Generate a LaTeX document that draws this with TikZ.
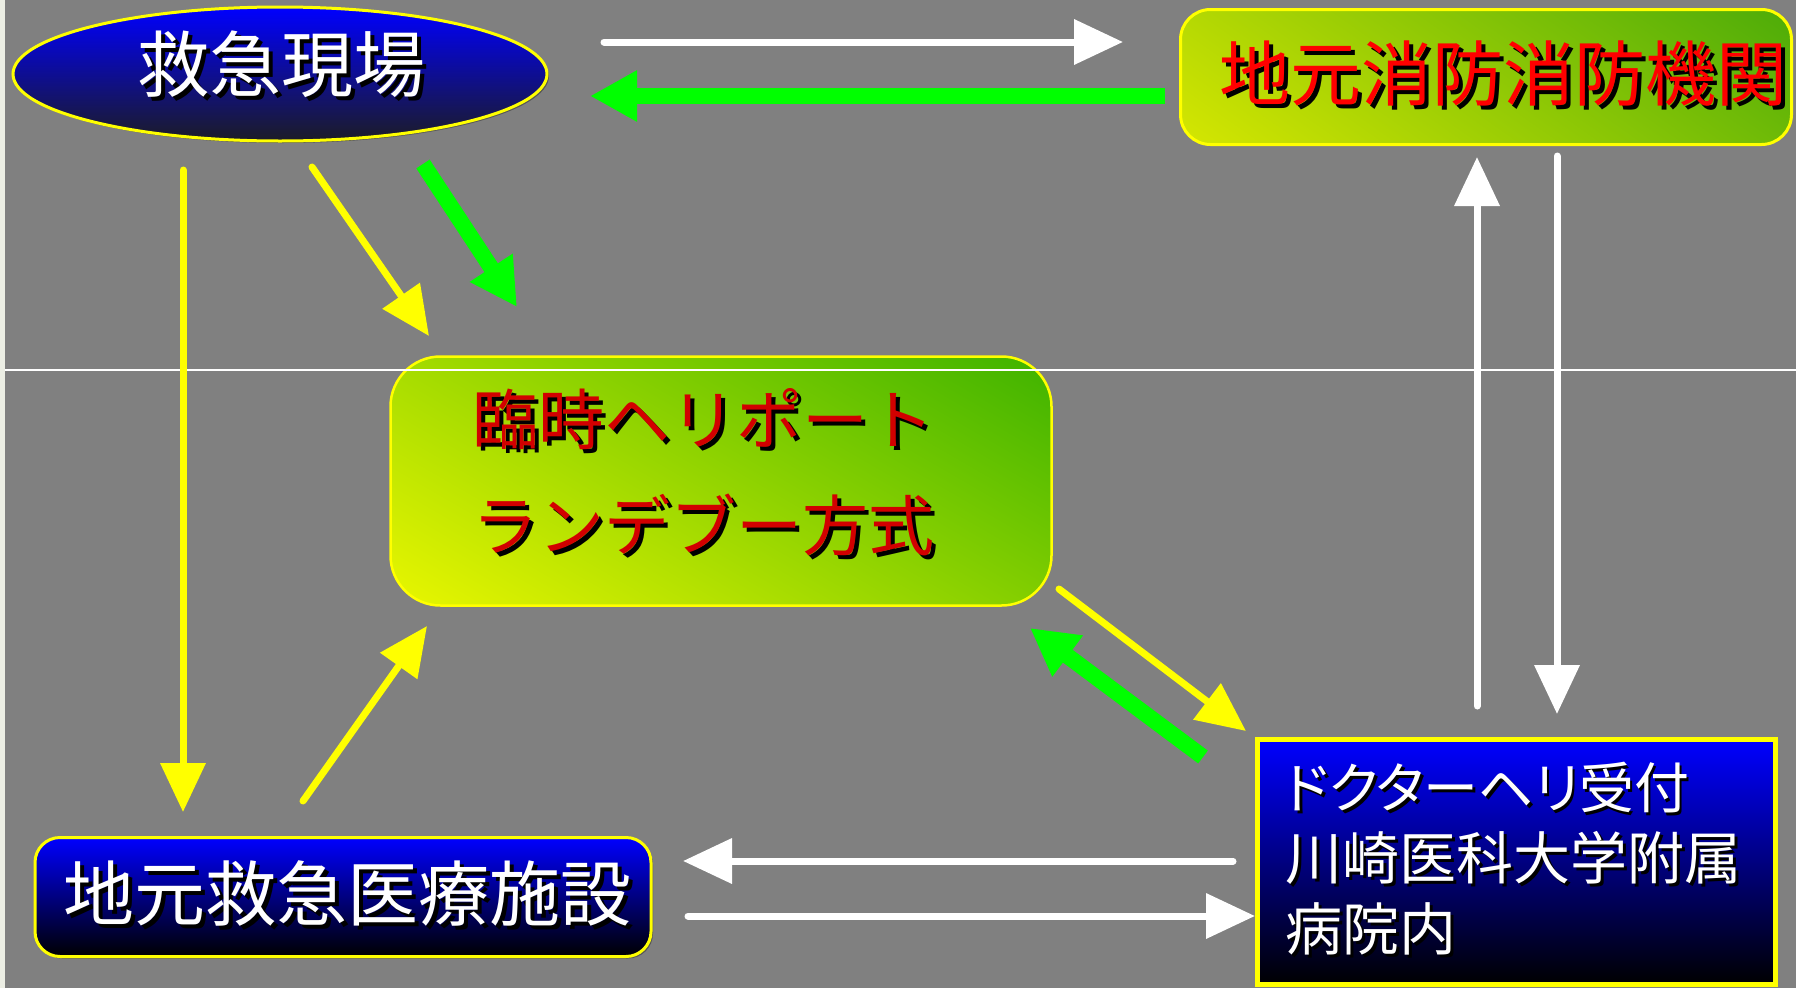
\documentclass[tikz,border=0pt]{standalone}
\usepackage{fontspec}
\setmainfont{Noto Sans CJK JP}
\newfontfamily\jpp{Noto Sans CJK JP}[RawFeature=+palt]
\usetikzlibrary{arrows.meta,calc,shapes.geometric,shadows}
\definecolor{bg}{RGB}{128,128,128}
\definecolor{strip}{RGB}{236,238,228}
\definecolor{pureyellow}{RGB}{255,255,0}
\definecolor{puregreen}{RGB}{0,255,0}
\definecolor{fgreen}{RGB}{50,160,10}
\definecolor{fyellow}{RGB}{240,242,0}
\definecolor{hgreen}{RGB}{40,170,0}
\definecolor{hmid}{RGB}{220,242,0}
\definecolor{pureblue}{RGB}{0,0,255}
\definecolor{scenebot}{RGB}{28,28,38}
\definecolor{firered}{RGB}{255,0,0}
\definecolor{helired}{RGB}{210,0,0}
\newcommand{\shd}[3][3.5pt]{\rlap{\kern#1\raisebox{-#1}{\color{black}#3}}{\color{#2}#3}}
\begin{document}
\begin{tikzpicture}[x=1pt,y=-1pt,
  ya/.style={draw=pureyellow, line width=7pt, line cap=round, -{Triangle[length=49pt,width=44pt]}},
  wa/.style={draw=white, line width=7pt, line cap=round, -{Triangle[length=49pt,width=44pt]}},
  ga/.style={draw=puregreen, line width=16pt, -{Triangle[length=47pt,width=48pt]}},
  box/.style={draw=pureyellow, inner sep=0pt},
  bshadow/.style={drop shadow={shadow xshift=2pt, shadow yshift=-2pt, fill=black!70, opacity=0.8}},
  txt/.style={inner sep=0pt, anchor=center}
]
\useasboundingbox (0,0) rectangle (1796,988);
\fill[bg] (0,0) rectangle (1796,988);
\fill[strip] (0,0) rectangle (5,988);

% boxes
\node[box, bshadow, ellipse, line width=3pt, top color=pureblue, bottom color=scenebot,
  minimum width=534pt, minimum height=134pt] (scene) at (280,74) {};
\node[box, rectangle, rounded corners=30pt, line width=3pt, minimum width=611pt, minimum height=135pt,
  path picture={\shade[left color=fgreen, right color=fyellow, shading angle=-35]
    ($(path picture bounding box.center)+(-320pt,-320pt)$) rectangle ($(path picture bounding box.center)+(320pt,320pt)$);}] (fire) at (1486,77) {};
\node[box, rectangle, rounded corners=50pt, line width=2.5pt, minimum width=661pt, minimum height=249pt,
  path picture={\shade[left color=hgreen, middle color=hmid, right color=pureyellow, shading angle=-30]
    ($(path picture bounding box.center)+(-345pt,-345pt)$) rectangle ($(path picture bounding box.center)+(345pt,345pt)$);}] (heli) at (721,481) {};
\node[box, bshadow, rectangle, rounded corners=25pt, line width=3pt, top color=pureblue, bottom color=black,
  minimum width=616pt, minimum height=119pt] (hosp) at (343,897) {};
\node[box, bshadow, rectangle, line width=5pt, top color=pureblue, bottom color=black,
  minimum width=518pt, minimum height=245pt] (doc) at (1516,862) {};

% texts
\node[txt, font=\fontsize{72pt}{72pt}\selectfont] (scenet) at (281,66) {\shd[4pt]{white}{救急現場}};
\node[txt, font=\fontsize{71pt}{71pt}\selectfont] (firet) at (1503,76) {\shd[4pt]{firered}{地元消防消防機関}};
\node[txt, font=\fontsize{66pt}{106pt}\selectfont, align=center] (helit) at (703,474)
  {\shd[4pt]{helired}{臨時ヘリポート}\\\shd[4pt]{helired}{ランデブー方式}};
\node[txt, font=\fontsize{71pt}{71pt}\selectfont] (hospt) at (347,895) {\shd[4pt]{white}{地元救急医療施設}};
\node[txt, anchor=west, font=\fontsize{57pt}{71pt}\selectfont, align=left] (doct) at (1285,860)
  {\shd[3pt]{white}{\jpp\fontsize{55pt}{71pt}\selectfont ドクターヘリ受付}\\\shd[3pt]{white}{川崎医科大学附属}\\\shd[3pt]{white}{病院内}};

% thin line
\draw[white, line width=2pt] (5,370) -- (1796,370);

% connector end points
\coordinate (a1s) at (604,42);   \coordinate (a1e) at (1123,42);
\coordinate (a2s) at (1165,96);  \coordinate (a2e) at (590,96);
\coordinate (a3s) at (183,170);  \coordinate (a3e) at (183,812);
\coordinate (a4s) at (312,167);  \coordinate (a4e) at (429,336);
\coordinate (a5s) at (423,164);  \coordinate (a5e) at (517,307);
\coordinate (a6s) at (303,801);  \coordinate (a6e) at (427,626);
\coordinate (a7s) at (1477,706); \coordinate (a7e) at (1477,157);
\coordinate (a8s) at (1557,156); \coordinate (a8e) at (1557,714);
\coordinate (a9s) at (1059,589); \coordinate (a9e) at (1246,731);
\coordinate (a10s) at (1203,757); \coordinate (a10e) at (1030,628);
\coordinate (a11s) at (1233,861); \coordinate (a11e) at (683,861);
\coordinate (a12s) at (688,916);  \coordinate (a12e) at (1255,916);

\draw[wa] (a1s) -- (a1e);
\draw[ga] (a2s) -- (a2e);
\draw[ya] (a3s) -- (a3e);
\draw[ya] (a4s) -- (a4e);
\draw[ga] (a5s) -- (a5e);
\draw[ya] (a6s) -- (a6e);
\draw[wa] (a7s) -- (a7e);
\draw[wa] (a8s) -- (a8e);
\draw[ya] (a9s) -- (a9e);
\draw[ga] (a10s) -- (a10e);
\draw[wa] (a11s) -- (a11e);
\draw[wa] (a12s) -- (a12e);
\end{tikzpicture}
\end{document}
